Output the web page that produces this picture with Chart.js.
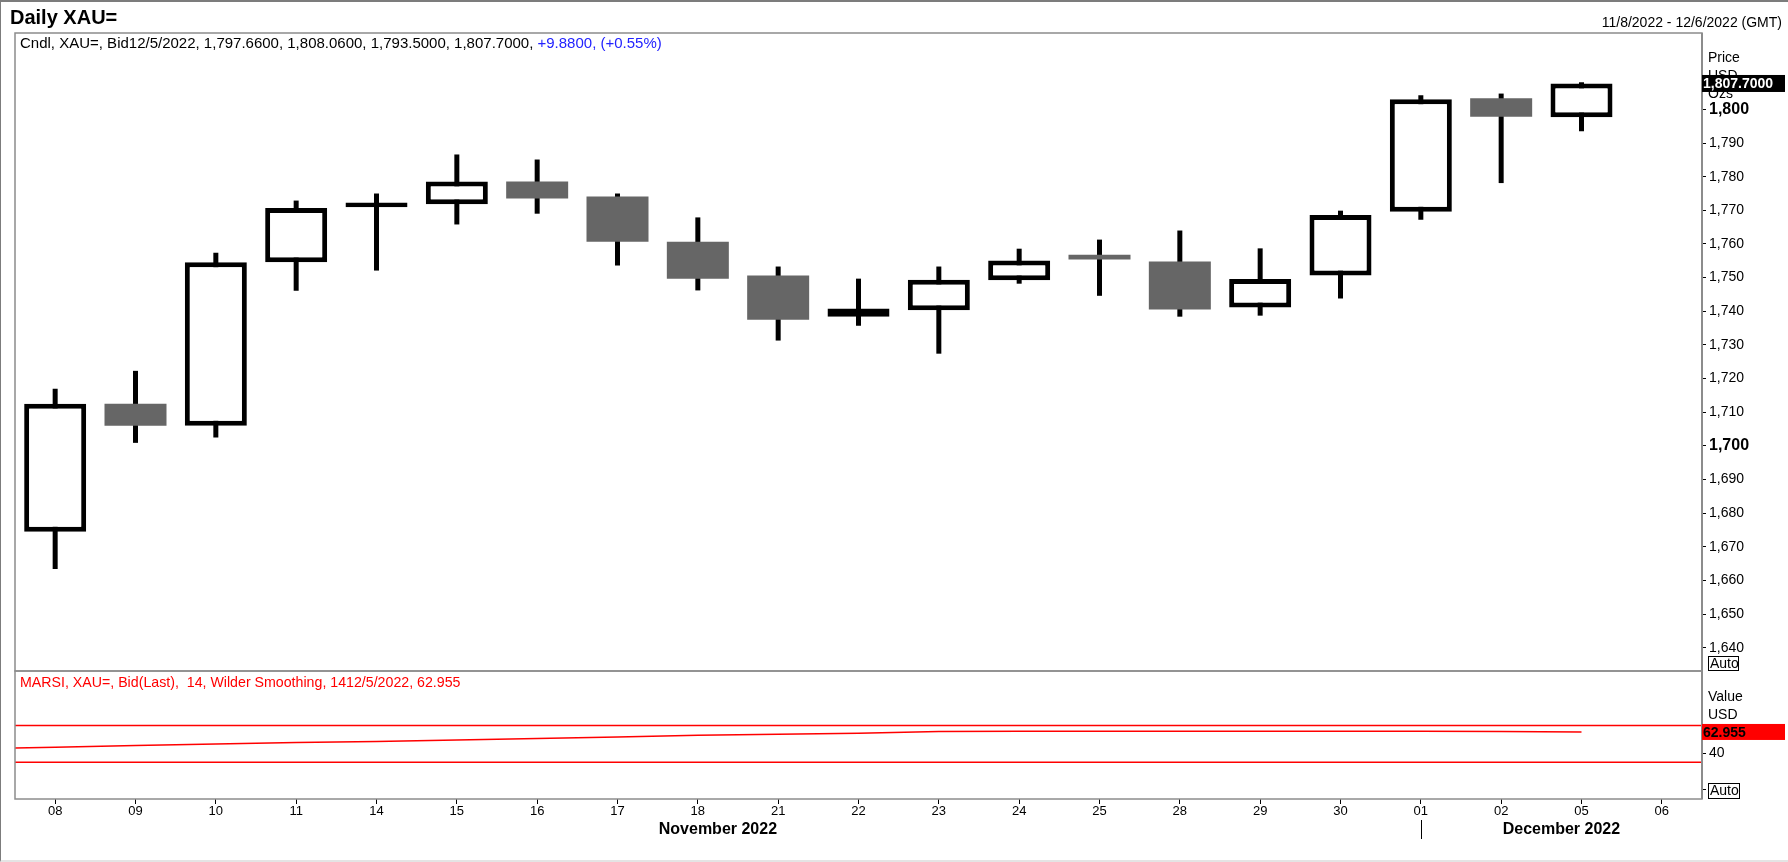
<!DOCTYPE html>
<html><head><meta charset="utf-8">
<script src="https://cdn.jsdelivr.net/npm/chart.js@4.4.1/dist/chart.umd.min.js"></script>
<style>
html,body{margin:0;padding:0;background:#fff;}
#wrap{position:relative;width:1788px;height:862px;overflow:hidden;background:#fff;}
#frame{position:absolute;left:0;top:0;width:1788px;height:862px;box-sizing:border-box;border-top:2px solid #7c7c7c;border-left:1px solid #7c7c7c;border-bottom:2px solid #e4e4e4;pointer-events:none;}
#c1{position:absolute;left:0;top:0;}
#c2{position:absolute;left:0;top:659px;}
</style></head><body>
<div id="wrap">
<canvas id="c1" width="1788" height="684"></canvas>
<canvas id="c2" width="1788" height="203"></canvas>
<div id="frame"></div>
</div>
<script>
// ---------- data ----------
const instrument = 'XAU=';
const dates  = ['2022-11-08','2022-11-09','2022-11-10','2022-11-11','2022-11-14','2022-11-15','2022-11-16','2022-11-17','2022-11-18','2022-11-21','2022-11-22','2022-11-23','2022-11-24','2022-11-25','2022-11-28','2022-11-29','2022-11-30','2022-12-01','2022-12-02','2022-12-05'];
const opens  = [1674.5,1712.5,1706.0,1754.6,1770.9,1771.8,1778.6,1774.1,1760.7,1750.6,1738.4,1740.3,1749.2,1756.8,1754.8,1741.1,1750.6,1769.6,1803.3,1797.66];
const highs  = [1717.0,1722.3,1757.4,1772.9,1775.0,1786.6,1785.1,1775.0,1767.9,1753.3,1749.7,1753.3,1758.6,1761.3,1764.0,1758.7,1769.9,1804.2,1804.7,1808.06];
const lows   = [1663.4,1700.9,1702.5,1746.1,1752.1,1765.8,1769.0,1753.6,1746.2,1731.3,1735.7,1727.4,1748.2,1744.6,1738.4,1738.7,1743.8,1767.2,1778.1,1793.50];
const closes = [1712.5,1706.0,1754.6,1770.7,1772.3,1778.6,1773.5,1760.7,1749.7,1737.5,1740.8,1749.4,1755.1,1755.4,1740.5,1749.6,1768.6,1803.0,1797.82,1807.70];
const axisDayLabels = ['08','09','10','11','14','15','16','17','18','21','22','23','24','25','28','29','30','01','02','05','06'];
const monthLabels = ['November 2022','December 2022'];
const rangeEnd = '2022-12-06';
const priceTicks = [1640,1650,1660,1670,1680,1690,1700,1710,1720,1730,1740,1750,1760,1770,1780,1790,1800];
// RSI values, first one belongs to the session before the first candle (11/7)
const rsiValues = [44.5,46.3,48.3,49.8,51.5,52.6,54.2,55.9,57.5,59.3,60.4,61.6,63.4,63.6,63.7,63.7,63.7,63.6,63.6,63.5,62.955];
const rsiLevels = [70,30];
const rsiTicks = [0,40];
const rsiPeriod = 14;

// ---------- helpers ----------
const FONT = '"Liberation Sans", Arial, sans-serif';
const N = dates.length;
const xMin = -0.5, xMax = axisDayLabels.length - 0.5;
const isUp = i => closes[i] >= opens[i];
const fmt4 = v => v.toLocaleString('en-US',{minimumFractionDigits:4,maximumFractionDigits:4});
const mdy = s => { const [y,m,d] = s.split('-'); return (+m)+'/'+(+d)+'/'+y; };
const lastDate = mdy(dates[N-1]);
const change = closes[N-1] - closes[N-2];
const pct = change / closes[N-2] * 100;
const sgn = v => (v >= 0 ? '+' : '');

const bodyData = dates.map((d,i)=>({x:i, y:[opens[i], closes[i]]}));
const wickData = dates.map((d,i)=>({x:i, y:[lows[i], highs[i]]}));

function drawAuto(ctx, x, y, w, h){
  ctx.save();
  ctx.strokeStyle = '#000'; ctx.lineWidth = 1;
  ctx.strokeRect(x+0.5, y+0.5, w, h);
  ctx.fillStyle = '#000'; ctx.font = '14px '+FONT;
  ctx.textAlign = 'left'; ctx.textBaseline = 'middle';
  ctx.fillText('Auto', x+2, y+h/2+1);
  ctx.restore();
}

// ---------- price chart ----------
const pricePlugin = {
  id:'priceDecor',
  afterDraw(chart){
    const {ctx, chartArea:a, scales:{y}} = chart;
    ctx.save();
    ctx.strokeStyle = '#8c8c8c'; ctx.lineWidth = 1.5;
    ctx.strokeRect(a.left, a.top, a.right-a.left, a.bottom-a.top);
    ctx.lineWidth = 2; ctx.beginPath(); ctx.moveTo(a.right, a.top); ctx.lineTo(a.right, a.bottom); ctx.stroke();

    ctx.fillStyle = '#000'; ctx.textAlign = 'left'; ctx.textBaseline = 'alphabetic';
    ctx.font = 'bold 20px '+FONT;
    ctx.fillText('Daily '+instrument, 10, 23.5);
    ctx.font = '14px '+FONT; ctx.textAlign = 'right';
    ctx.fillText(mdy(dates[0])+' - '+mdy(rangeEnd)+' (GMT)', 1782, 26.5);

    ctx.textAlign = 'left'; ctx.font = '15px '+FONT;
    const part1 = 'Cndl, '+instrument+', Bid'+lastDate+', '+fmt4(opens[N-1])+', '+fmt4(highs[N-1])+', '+fmt4(lows[N-1])+', '+fmt4(closes[N-1])+', ';
    const part2 = sgn(change)+change.toFixed(4)+', ('+sgn(pct)+pct.toFixed(2)+'%)';
    ctx.fillStyle = '#000'; ctx.fillText(part1, 20, 48);
    const w1 = ctx.measureText(part1).width;
    ctx.fillStyle = '#2222ff'; ctx.fillText(part2, 20+w1, 48);

    ctx.fillStyle = '#000'; ctx.font = '14px '+FONT; ctx.textBaseline = 'middle';
    ctx.fillText('Price', 1708, 58.5);
    ctx.fillText('USD', 1708, 76.5);
    ctx.fillText('Ozs', 1708, 94.5);
    const yy = y.getPixelForValue(closes[N-1]);
    ctx.fillStyle = '#000'; ctx.fillRect(a.right, yy-8.5, 83, 17);
    ctx.fillStyle = '#fff'; ctx.font = 'bold 14px '+FONT;
    ctx.fillText(closes[N-1].toLocaleString('en-US',{minimumFractionDigits:4}), a.right+1, yy+1);
    ctx.restore();
    drawAuto(ctx, 1708, 656, 30, 14);
  }
};

new Chart(document.getElementById('c1'), {
  type:'bar',
  data:{datasets:[
    {data:bodyData, order:0, grouped:false, barThickness:62, borderSkipped:false, inflateAmount:0,
     backgroundColor: c => isUp(c.dataIndex) ? '#ffffff' : '#666666',
     borderColor:'#000000', borderWidth: c => isUp(c.dataIndex) ? 5 : 0},
    {data:wickData, order:1, grouped:false, barThickness:5, inflateAmount:0, backgroundColor:'#000000', borderWidth:0}
  ]},
  options:{
    responsive:false, animation:false, devicePixelRatio:1,
    layout:{padding:{left:15, top:33, right:0, bottom:13}},
    plugins:{legend:{display:false}, tooltip:{enabled:false}},
    scales:{
      x:{type:'linear', min:xMin, max:xMax, offset:false, display:false},
      y:{position:'right', min:1633.1, max:1822.7,
         afterFit: s => { s.width = 86; },
         afterBuildTicks: s => { s.ticks = priceTicks.map(v => ({value:v})); },
         grid:{drawOnChartArea:false, tickLength:4, color:'#000'},
         border:{display:false},
         ticks:{padding:3, color:'#000',
           font: c => (c.tick && c.tick.value % 100 === 0) ? {family:FONT, size:16, weight:'bold'} : {family:FONT, size:14},
           callback: v => Number(v).toLocaleString('en-US')}}
    }
  },
  plugins:[pricePlugin]
});

// ---------- RSI chart ----------
const OFF = 659; // page y of the RSI canvas
const rsiPlugin = {
  id:'rsiDecor',
  afterDraw(chart){
    const {ctx, chartArea:a, scales:{x,y}} = chart;
    ctx.save();
    ctx.strokeStyle = '#8c8c8c'; ctx.lineWidth = 1.5;
    ctx.strokeRect(a.left, a.top, a.right-a.left, a.bottom-a.top);
    ctx.lineWidth = 2; ctx.beginPath(); ctx.moveTo(a.right, a.top); ctx.lineTo(a.right, a.bottom); ctx.stroke();

    ctx.fillStyle = '#ff0000'; ctx.font = '14.2px '+FONT; ctx.textAlign = 'left'; ctx.textBaseline = 'alphabetic';
    ctx.fillText('MARSI, '+instrument+', Bid(Last),  '+rsiPeriod+', Wilder Smoothing, '+rsiPeriod+lastDate+', '+rsiValues[rsiValues.length-1].toFixed(3), 20, 686.5-OFF);

    ctx.fillStyle = '#000'; ctx.font = '14px '+FONT; ctx.textBaseline = 'middle';
    ctx.fillText('Value', 1708, 696.7-OFF);
    ctx.fillText('USD', 1708, 715-OFF);
    const last = rsiValues[rsiValues.length-1];
    const yy = y.getPixelForValue(last);
    ctx.fillStyle = '#ff0000'; ctx.fillRect(a.right, yy-8, 83, 16);
    ctx.fillStyle = '#000'; ctx.font = 'bold 14px '+FONT;
    ctx.fillText(last.toFixed(3), a.right+1, yy+1);

    // months
    const boundary = dates.findIndex((d,i) => i > 0 && d.slice(5,7) !== dates[i-1].slice(5,7));
    const bx = x.getPixelForValue(boundary);
    ctx.strokeStyle = '#000'; ctx.lineWidth = 1;
    ctx.beginPath(); ctx.moveTo(Math.round(bx)+0.5, 820-OFF); ctx.lineTo(Math.round(bx)+0.5, 839-OFF); ctx.stroke();
    ctx.font = 'bold 16px '+FONT; ctx.textAlign = 'center'; ctx.textBaseline = 'alphabetic';
    ctx.fillText(monthLabels[0], (a.left+bx)/2, 833.5-OFF);
    ctx.fillText(monthLabels[1], (bx+a.right)/2, 833.5-OFF);
    ctx.restore();
    drawAuto(ctx, 1708, 783-OFF, 31, 15);
  }
};

new Chart(document.getElementById('c2'), {
  type:'line',
  data:{datasets:[
    {data: rsiValues.map((v,i)=>({x:i-1, y:v})), borderColor:'#ff0000', borderWidth:1.5, pointRadius:0, tension:0, order:0},
    ...rsiLevels.map(l => ({data:[{x:xMin,y:l},{x:xMax,y:l}], borderColor:'#ff0000', borderWidth:1.5, pointRadius:0, order:1}))
  ]},
  options:{
    responsive:false, animation:false, devicePixelRatio:1,
    layout:{padding:{left:15, top:671-OFF, right:0, bottom:0}},
    plugins:{legend:{display:false}, tooltip:{enabled:false}},
    scales:{
      x:{type:'linear', min:xMin, max:xMax, offset:false,
         afterFit: s => { s.height = 862-799; },
         afterBuildTicks: s => { s.ticks = axisDayLabels.map((l,i) => ({value:i})); },
         grid:{drawOnChartArea:false, tickLength:5, color:'#000'},
         border:{display:false},
         ticks:{autoSkip:false, maxRotation:0, padding:0, color:'#000', font:{family:FONT, size:13},
           callback: v => axisDayLabels[v]}},
      y:{position:'right', min:-9.9, max:129.2,
         afterFit: s => { s.width = 86; },
         afterBuildTicks: s => { s.ticks = rsiTicks.map(v => ({value:v})); },
         grid:{drawOnChartArea:false, tickLength:4, color:'#000'},
         border:{display:false},
         ticks:{padding:3, color:'#000', font:{family:FONT, size:14}, callback: v => v === 0 ? '' : String(v)}}
    }
  },
  plugins:[rsiPlugin]
});
</script>
</body></html>
